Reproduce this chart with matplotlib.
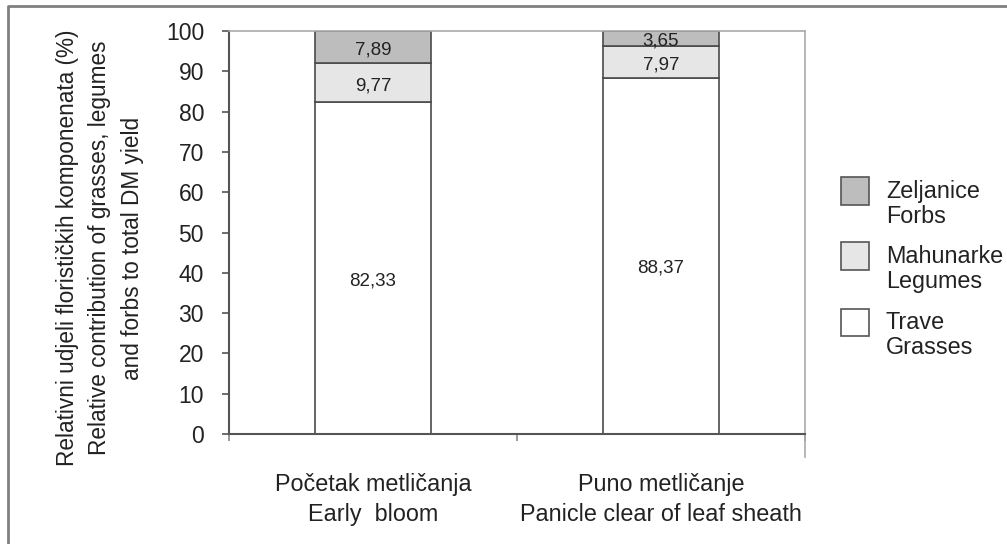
import matplotlib
matplotlib.use("Agg")
import matplotlib.pyplot as plt
from matplotlib.patches import Rectangle
from matplotlib.lines import Line2D

plt.rcParams['font.family'] = ['Liberation Sans', 'DejaVu Sans']

categories = ["Početak metličanja\nEarly  bloom", "Puno metličanje\nPanicle clear of leaf sheath"]
grasses = [82.33, 88.37]
legumes = [9.77, 7.97]
forbs = [7.89, 3.65]
series_labels = [("Zeljanice", "Forbs"), ("Mahunarke", "Legumes"), ("Trave", "Grasses")]
yticks = list(range(0, 101, 10))

W, H = 1007, 544
fig = plt.figure(figsize=(W / 100, H / 100), dpi=100)
ax = fig.add_axes([229 / W, 1 - 434 / H, 576 / W, 403 / H])

edge = '#4a4a4a'
c_gr, c_le, c_fo = '#ffffff', '#e6e6e6', '#bdbdbd'
x = list(range(len(categories)))
bw = 0.403
ax.bar(x, grasses, bw, color=c_gr, edgecolor=edge, linewidth=1.2)
ax.bar(x, legumes, bw, bottom=grasses, color=c_le, edgecolor=edge, linewidth=1.2)
bot3 = [g + l for g, l in zip(grasses, legumes)]
ax.bar(x, forbs, bw, bottom=bot3, color=c_fo, edgecolor=edge, linewidth=1.2)

def fmt(v):
    return f"{v:.2f}".replace('.', ',')

def label(xi, yc, v, dy):
    ax.annotate(fmt(v), (xi, yc), xytext=(0, dy), textcoords='offset points',
                ha='center', va='center', fontsize=13.5, color='#222222')

for i in x:
    label(i, grasses[i] / 2, grasses[i], -9)
    label(i, grasses[i] + legumes[i] / 2, legumes[i], -2.5)
    label(i, bot3[i] + forbs[i] / 2, forbs[i], -2)

ax.set_xlim(-0.5, len(categories) - 0.5)
ax.set_ylim(0, 100)
ax.set_yticks(yticks)
ax.tick_params(axis='y', direction='out', length=5, width=1.2, color='#555555', pad=13,
               labelsize=16.5, labelcolor='#222222')
ax.set_xticks([-0.5, 0.5, 1.5])
ax.set_xticklabels(['', '', ''])
ax.tick_params(axis='x', which='major', direction='out', length=5, width=1.2, color='#888888')
ax.set_xticks(x, minor=True)
ax.set_xticklabels(categories, minor=True, fontsize=16.8, color='#222222', linespacing=1.4)
ax.tick_params(axis='x', which='minor', length=0, pad=28)

for s in ['left', 'bottom']:
    ax.spines[s].set_color('#555555')
    ax.spines[s].set_linewidth(1.5)
for s in ['top', 'right']:
    ax.spines[s].set_color('#aaaaaa')
    ax.spines[s].set_linewidth(1.2)
ax.add_line(Line2D([1, 1], [0, -0.057], transform=ax.transAxes, color='#aaaaaa', lw=1.2, clip_on=False))

fig.text(100 / W, 1 - 248 / H,
         "Relativni udjeli florističkih komponenata (%)\nRelative contribution of grasses, legumes\nand forbs to total DM yield",
         rotation=90, ha='center', va='center', multialignment='center', fontsize=16.3, color='#222222',
         linespacing=1.5)

# legend
colors = [c_fo, c_le, c_gr]
centers = [191, 256, 322]
for (l1, l2), col, cy in zip(series_labels, colors, centers):
    fig.patches.append(Rectangle((841 / W, 1 - (cy + 13.5) / H), 28 / W, 27 / H,
                                 transform=fig.transFigure, facecolor=col, edgecolor='#555555', lw=1.2))
    fig.text(886 / W, 1 - (cy + 7) / H, l1, ha='left', va='baseline', fontsize=16.8, color='#222222')
    fig.text(886 / W, 1 - (cy + 32) / H, l2, ha='left', va='baseline', fontsize=16.8, color='#222222')

# outer frame (left and top)
fig.add_artist(Line2D([7.5 / W, 7.5 / W, 1.0], [0.0, 1 - 5.5 / H, 1 - 5.5 / H],
                      transform=fig.transFigure, color='#808080', lw=2))

fig.savefig("out.png", dpi=100)
